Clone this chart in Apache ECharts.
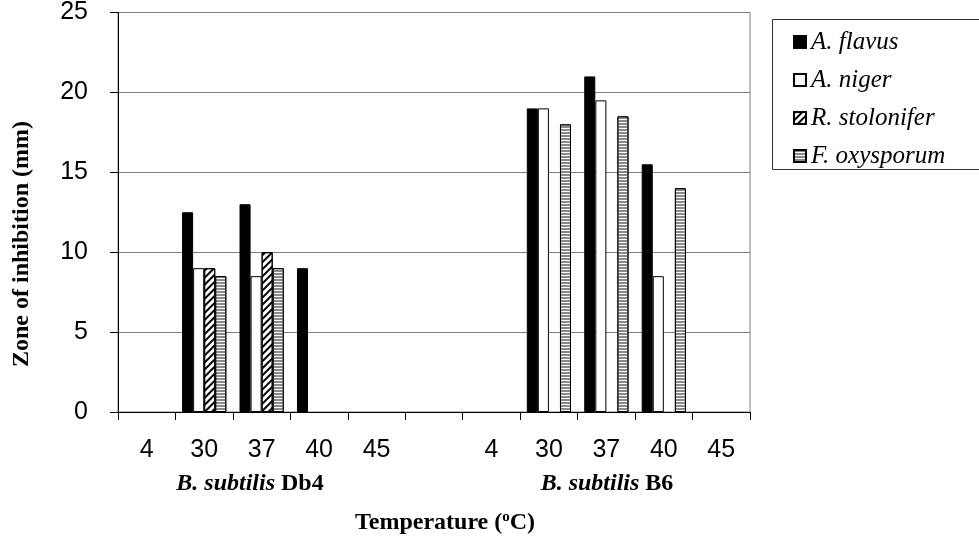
<!DOCTYPE html>
<html>
<head>
<meta charset="utf-8">
<script src="https://cdn.jsdelivr.net/npm/echarts@6/dist/echarts.min.js"></script>
<style>
  html, body { margin: 0; padding: 0; background: #fff; }
  #main { width: 979px; height: 539px; }
</style>
</head>
<body>
<div id="main"></div>
<script>
// temperatures for the two strains, with one empty slot between the groups
var temps = ['4', '30', '37', '40', '45', '', '4', '30', '37', '40', '45'];
var flavus     = [null, 12.5, 13, 9, null, null, null, 19, 21, 15.5, null];
var niger      = [null, 9, 8.5, null, null, null, null, 19, 19.5, 8.5, null];
var stolonifer = [null, 9, 10, null, null, null, null, null, null, null, null];
var oxysporum  = [null, 8.5, 9, null, null, null, null, 18, 18.5, 14, null];
var yTicks = [0, 5, 10, 15, 20, 25];

var serif = '"Liberation Serif", "Times New Roman", serif';
var sans = '"Liberation Sans", Arial, sans-serif';

var chart = echarts.init(document.getElementById('main'));

function bar(name, data, fill, decal) {
  var s = {
    name: name,
    type: 'bar',
    data: data,
    barGap: '0%',
    barCategoryGap: '23%',
    itemStyle: { color: fill, borderColor: '#000', borderWidth: 1 }
  };
  if (decal) s.itemStyle.decal = decal;
  return s;
}

var option = {
  animation: false,
  grid: {
    left: 118, right: 229, top: 12, bottom: 127,
    show: true, borderColor: '#808080', borderWidth: 1
  },
  legend: {
    orient: 'vertical',
    left: 788, top: 24,
    icon: 'rect',
    itemWidth: 12, itemHeight: 12,
    itemGap: 12,
    textStyle: { fontFamily: serif, fontStyle: 'italic', fontSize: 25, lineHeight: 26, color: '#000', padding: [0, 0, 0, 0] }
  },
  xAxis: {
    type: 'category',
    data: temps,
    axisLine: { lineStyle: { color: '#000', width: 1 } },
    axisTick: { show: true, interval: 0, length: 8, lineStyle: { color: '#000' } },
    axisLabel: { interval: 0, margin: 26, fontFamily: sans, fontSize: 25, color: '#000' }
  },
  yAxis: {
    type: 'value',
    min: yTicks[0], max: yTicks[yTicks.length - 1], interval: 5,
    axisLine: { show: true, lineStyle: { color: '#000', width: 1 } },
    axisTick: { show: true, length: 8, lineStyle: { color: '#000' } },
    axisLabel: { margin: 30, fontFamily: sans, fontSize: 25, color: '#000' },
    splitLine: { lineStyle: { color: '#808080', width: 1 } }
  },
  series: [
    bar('A. flavus', flavus, '#000'),
    bar('A. niger', niger, '#fff'),
    bar('R. stolonifer', stolonifer, '#fff', {
      symbol: 'rect', symbolSize: 1, color: '#000',
      dashArrayX: [1, 0], dashArrayY: [2, 3], rotation: -Math.PI / 4
    }),
    bar('F. oxysporum', oxysporum, '#fff', {
      symbol: 'rect', symbolSize: 1, color: '#8a8a8a',
      dashArrayX: [1, 0], dashArrayY: [2, 1], rotation: 0
    })
  ],
  graphic: [
    {
      type: 'rect', left: 770, top: 17,
      shape: { width: 240, height: 150 },
      style: { fill: 'none', stroke: '#333', lineWidth: 1 }
    },
    {
      type: 'text', x: 22, y: 244, rotation: Math.PI / 2,
      style: {
        text: 'Zone of inhibition (mm)', fill: '#000',
        font: 'bold 24px ' + serif, align: 'center', verticalAlign: 'middle'
      }
    },
    {
      type: 'text', x: 250, y: 484,
      style: {
        text: '{i|B. subtilis} {b|Db4}', fill: '#000', align: 'center', verticalAlign: 'middle',
        font: 'bold 24px ' + serif,
        rich: {
          i: { fontFamily: serif, fontWeight: 'bold', fontStyle: 'italic', fontSize: 24 },
          b: { fontFamily: serif, fontWeight: 'bold', fontSize: 24 }
        }
      }
    },
    {
      type: 'text', x: 607, y: 484,
      style: {
        text: '{i|B. subtilis} {b|B6}', fill: '#000', align: 'center', verticalAlign: 'middle',
        font: 'bold 24px ' + serif,
        rich: {
          i: { fontFamily: serif, fontWeight: 'bold', fontStyle: 'italic', fontSize: 24 },
          b: { fontFamily: serif, fontWeight: 'bold', fontSize: 24 }
        }
      }
    },
    {
      type: 'text', x: 445, y: 523,
      style: {
        text: '{b|Temperature (}{s|o}{b|C)}', fill: '#000', align: 'center', verticalAlign: 'middle',
        font: 'bold 24px ' + serif,
        rich: {
          b: { fontFamily: serif, fontWeight: 'bold', fontSize: 24, lineHeight: 26 },
          s: { fontFamily: serif, fontWeight: 'bold', fontSize: 15, lineHeight: 26, verticalAlign: 'top', padding: [0, 0, 9, 0] }
        }
      }
    }
  ]
};

chart.setOption(option);
</script>
</body>
</html>
